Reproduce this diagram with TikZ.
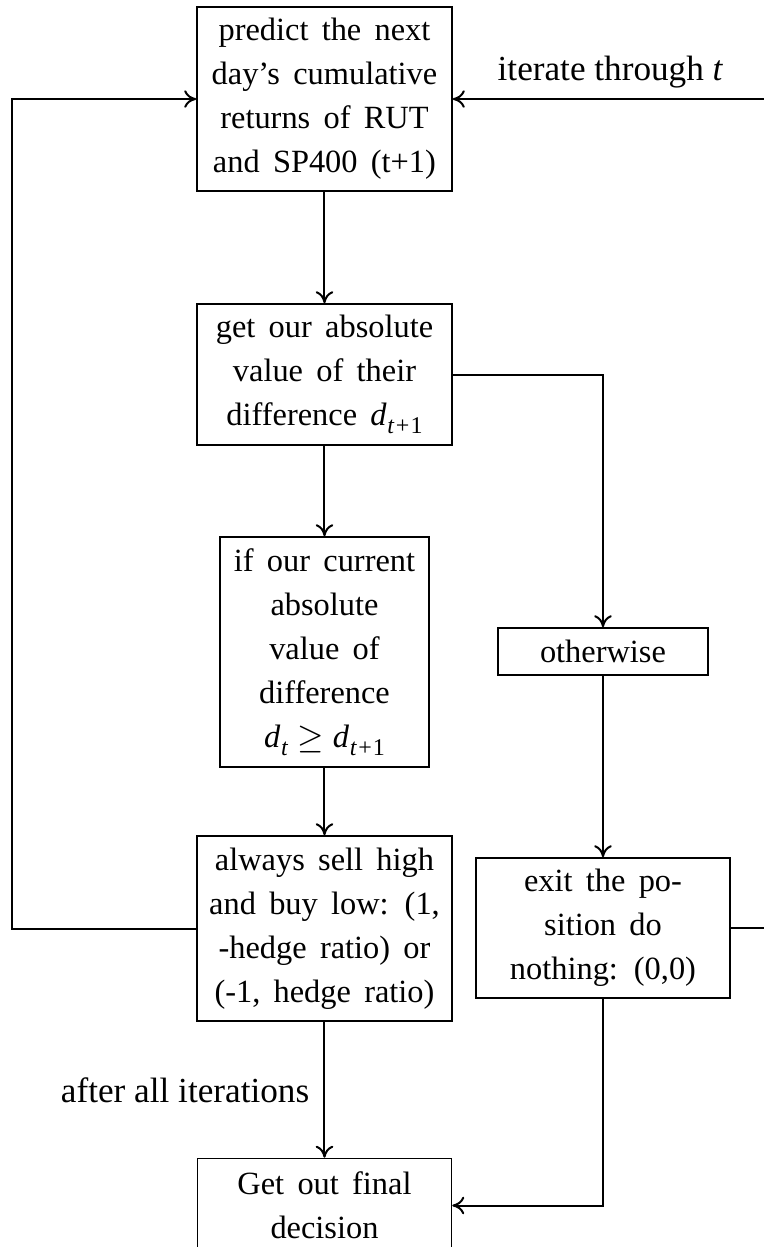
\documentclass[tikz,border=0pt]{standalone}
\usepackage{fontspec}
\setmainfont{Liberation Serif}
\usetikzlibrary{arrows.meta}
\newcommand{\dsub}[1]{\textit{d}\kern0.2pt\raisebox{-0.55ex}{\fontsize{6pt}{6pt}\selectfont #1}}
\newcommand{\boxfont}{\fontsize{8.1pt}{11pt}\selectfont\spaceskip=0.41em plus 0.1em\relax}
\begin{document}
\begin{tikzpicture}[x=0.25pt,y=-0.25pt,
  box/.style={draw, line width=0.4pt, align=center, inner sep=0pt, font=\boxfont},
  lbl/.style={inner sep=0pt, font=\fontsize{8.8pt}{11pt}\selectfont},
  conn/.style={line width=0.5pt, -{To[length=3pt,width=4.4pt]}},
  plain/.style={line width=0.5pt}]
\useasboundingbox (0,0) rectangle (764,1247);
\node[box, minimum width=63.75pt, minimum height=46pt] (pred) at (324.5,99)
  {predict the next\\day’s cumulative\\returns of RUT\\and SP400 (t+1)};
\node[box, minimum width=63.75pt, minimum height=35.25pt] (abs) at (324.5,374.5)
  {get our absolute\\value of their\\difference \dsub{\textit{t}\kern0.3pt+\kern0.3pt1}};
\node[box, minimum width=52.25pt, minimum height=57.5pt] (cond) at (324.5,652)
  {if our current\\absolute\\value of\\difference\\\dsub{\textit{t}}\kern0.28em$\geq$\kern0.28em\dsub{\textit{t}\kern0.3pt+\kern0.3pt1}};
\node[box, minimum width=52.5pt, minimum height=11.75pt] (oth) at (603,651.5) {otherwise};
\node[box, minimum width=63.75pt, minimum height=46.25pt] (sell) at (324.5,928.5)
  {always sell high\\and buy low: (1,\\-hedge ratio) or\\(-1, hedge ratio)};
\node[box, minimum width=63.5pt, minimum height=35pt] (exit) at (603,928)
  {exit the po-\\sition do\\nothing: (0,0)};
\node[box, minimum width=63.5pt, minimum height=23.5pt] (fin) at (324.5,1205.5)
  {Get out final\\decision};
\node[lbl, anchor=east] (iter) at (724,72) {iterate through \textit{t}};
\node[lbl, anchor=east] (after) at (310,1090) {after all iterations};
\coordinate (rin) at (764,99);
\coordinate (rout) at (764,928);
\coordinate (lc) at (12,99);
\draw[conn] (pred) -- (abs);
\draw[conn] (abs) -- (cond);
\draw[conn] (cond) -- (sell);
\draw[conn] (sell) -- (fin);
\draw[conn] (abs.east) -| (oth.north);
\draw[conn] (oth) -- (exit);
\draw[conn] (exit.south) |- (fin.east);
\draw[conn] (sell.west) -| (lc) -- (pred.west);
\draw[conn] (rin) -- (pred.east);
\draw[plain] (exit.east) -- (rout);
\end{tikzpicture}
\end{document}
